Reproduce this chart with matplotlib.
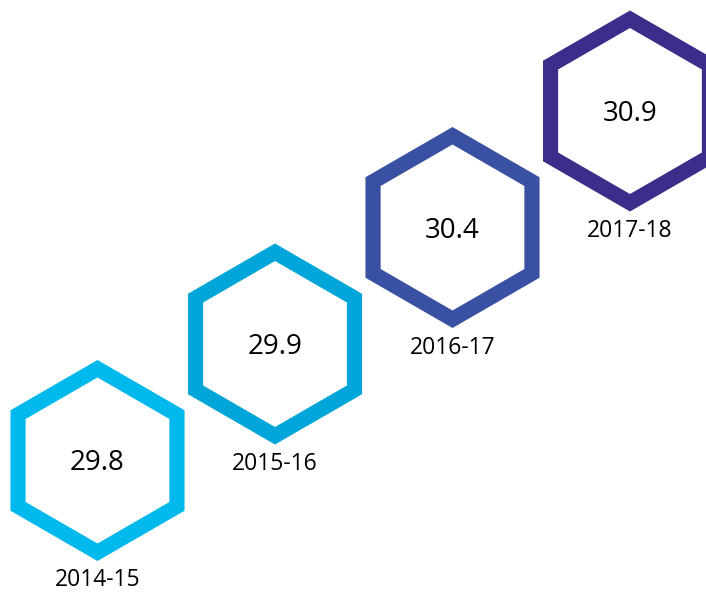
import matplotlib.pyplot as plt
from matplotlib.patches import RegularPolygon

years = ['2014-15', '2015-16', '2016-17', '2017-18']
values = [29.8, 29.9, 30.4, 30.9]
colors = ['#00B9EC', '#00A5D9', '#3A50A2', '#3B2E8A']

plt.rcParams['font.family'] = ['Open Sans', 'DejaVu Sans']

W, H = 706, 592
fig = plt.figure(figsize=(W / 100, H / 100), dpi=100)
ax = fig.add_axes([0, 0, 1, 1])
ax.set_xlim(0, W)
ax.set_ylim(H, 0)
ax.axis('off')

# layout in pixel units
x0, y0 = 97.5, 460.5
dx, dy = 177.5, -116.5
R_out, R_in = 100.5, 83.0
label_off = 120

for i, (yr, v, c) in enumerate(zip(years, values, colors)):
    cx = x0 + i * dx
    cy = y0 + i * dy
    ax.add_patch(RegularPolygon((cx, cy), 6, radius=R_out, orientation=0,
                                facecolor=c, edgecolor='none'))
    ax.add_patch(RegularPolygon((cx, cy), 6, radius=R_in, orientation=0,
                                facecolor='white', edgecolor='none'))
    ax.text(cx, cy + 3, f'{v:.1f}', ha='center', va='center', fontsize=20, color='black')
    ax.text(cx, cy + label_off, yr, ha='center', va='center', fontsize=16.5, color='black')

fig.savefig('out.png', dpi=100)
